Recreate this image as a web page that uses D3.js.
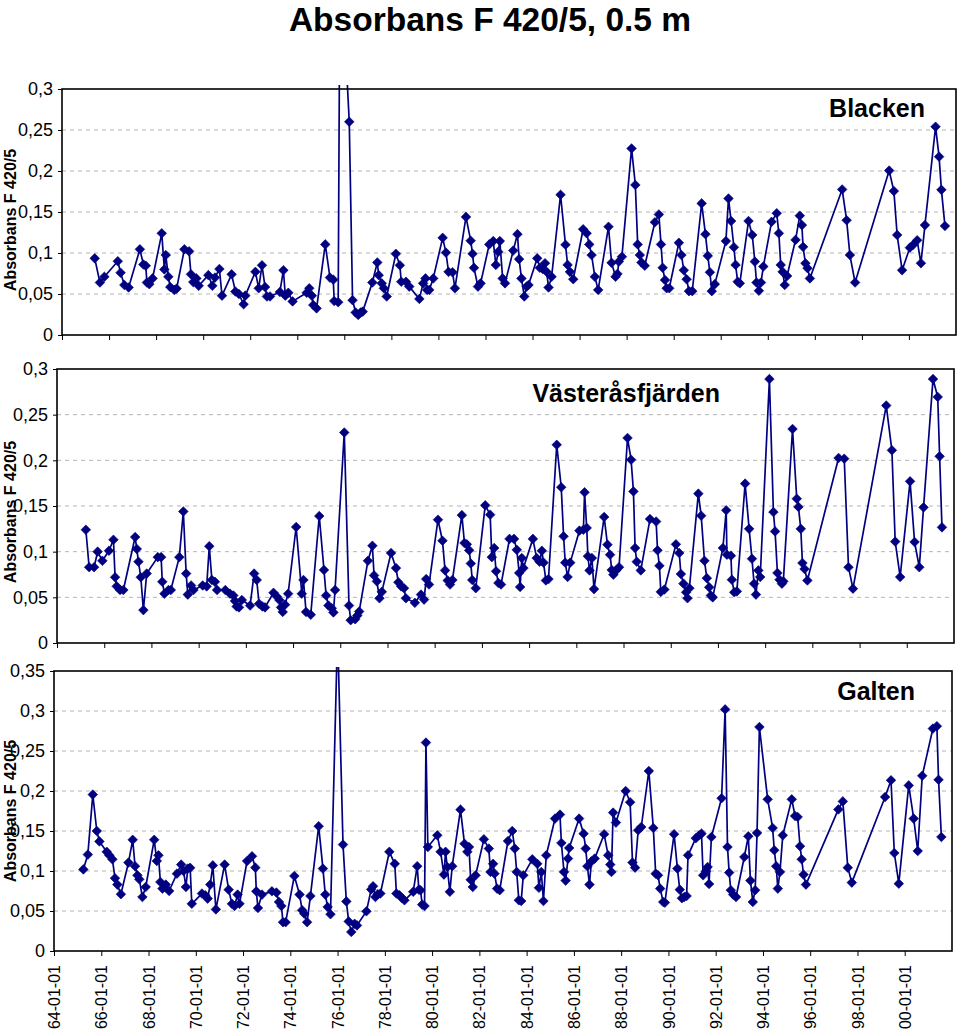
<!DOCTYPE html>
<html><head><meta charset="utf-8">
<script src="https://cdn.jsdelivr.net/npm/d3@7"></script>
<style>body{margin:0;background:#fff}svg{display:block}text{font-family:"Liberation Sans",Arial,sans-serif}</style>
</head><body><svg id="chart" width="960" height="1029"></svg>
<script>
// ---------- DATA (dates as decimal years) ----------
const blackenDates=[1965.39,1965.61,1965.80,1966.37,1966.49,1966.65,1966.83,1967.31,1967.46,1967.56,1967.61,1967.71,1967.85,1968.24,1968.35,1968.41,1968.52,1968.60,1968.77,1968.87,1969.20,1969.40,1969.48,1969.58,1969.71,1969.81,1970.22,1970.39,1970.50,1970.69,1970.80,1971.21,1971.37,1971.52,1971.72,1971.79,1972.22,1972.36,1972.50,1972.63,1972.71,1972.84,1973.26,1973.41,1973.49,1973.62,1973.80,1974.40,1974.51,1974.62,1974.68,1974.82,1975.19,1975.39,1975.53,1975.57,1975.74,1975.82,1976.21,1976.35,1976.48,1976.59,1976.69,1976.78,1977.19,1977.40,1977.46,1977.59,1977.68,1977.80,1978.19,1978.36,1978.42,1978.62,1978.76,1979.19,1979.35,1979.45,1979.52,1979.61,1979.78,1980.18,1980.32,1980.43,1980.60,1980.70,1981.17,1981.37,1981.45,1981.51,1981.68,1981.79,1982.16,1982.33,1982.44,1982.54,1982.61,1982.73,1982.83,1983.18,1983.36,1983.43,1983.53,1983.65,1983.75,1983.83,1984.20,1984.31,1984.43,1984.53,1984.60,1984.68,1984.81,1985.19,1985.40,1985.49,1985.59,1985.73,1986.15,1986.30,1986.41,1986.51,1986.65,1986.79,1987.23,1987.36,1987.53,1987.61,1987.67,1987.80,1988.21,1988.37,1988.47,1988.56,1988.63,1988.77,1989.20,1989.37,1989.46,1989.53,1989.63,1989.70,1989.81,1990.22,1990.33,1990.43,1990.55,1990.65,1990.79,1991.19,1991.35,1991.45,1991.54,1991.62,1991.75,1992.22,1992.33,1992.44,1992.56,1992.63,1992.72,1992.81,1993.18,1993.34,1993.45,1993.52,1993.62,1993.71,1993.81,1994.16,1994.38,1994.47,1994.55,1994.63,1994.72,1994.82,1995.18,1995.36,1995.45,1995.50,1995.60,1995.69,1995.79,1997.16,1997.35,1997.49,1997.71,1999.16,1999.36,1999.50,1999.71,2000.04,2000.18,2000.35,2000.51,2000.68,2001.13,2001.28,2001.38,2001.53];
const blackenValues=[.0935,.064,.071,.090,.076,.061,.058,.1045,.086,.0845,.064,.062,.069,.124,.080,.0975,.071,.0585,.055,.0565,.1045,.102,.074,.0645,.069,.060,.073,.060,.070,.0805,.048,.074,.053,.050,.0375,.048,.077,.057,.085,.0585,.047,.047,.0525,.079,.048,.0515,.041,.0515,.057,.048,.0365,.0325,.1105,.070,.0675,.0415,.040,.48,.260,.0425,.0275,.0245,.0275,.0285,.064,.0885,.073,.063,.057,.047,.099,.085,.065,.065,.059,.044,.063,.069,.055,.055,.069,.1185,.1005,.077,.0765,.057,.144,.115,.099,.082,.059,.063,.1105,.1145,.0855,.1015,.1145,.069,.063,.103,.123,.0925,.069,.047,.059,.061,.0935,.082,.0805,.0875,.077,.058,.071,.171,.110,.0855,.077,.068,.129,.124,.1105,.0975,.071,.055,.132,.088,.071,.0745,.0895,.0955,.2275,.183,.1105,.0975,.0885,.0845,.1375,.147,.1105,.082,.067,.057,.057,.1125,.0975,.079,.068,.0535,.0535,.1605,.123,.0965,.0765,.0535,.062,.1145,.1665,.139,.107,.0855,.065,.063,.139,.122,.0895,.064,.054,.064,.0835,.138,.1485,.124,.0855,.077,.061,.072,.116,.1455,.134,.1075,.0875,.0815,.069,.1775,.140,.0975,.064,.2005,.1755,.122,.079,.1065,.110,.1155,.0875,.134,.254,.2175,.177,.133];

const vasterasDates=[1965.22,1965.36,1965.57,1965.72,1965.92,1966.20,1966.39,1966.46,1966.53,1966.67,1966.81,1967.31,1967.38,1967.45,1967.55,1967.66,1967.80,1968.27,1968.41,1968.46,1968.55,1968.72,1968.82,1969.18,1969.35,1969.47,1969.54,1969.68,1969.78,1970.17,1970.34,1970.45,1970.56,1970.69,1970.78,1971.13,1971.33,1971.47,1971.54,1971.61,1971.71,1971.83,1972.18,1972.35,1972.46,1972.56,1972.70,1972.81,1973.17,1973.31,1973.42,1973.49,1973.56,1973.66,1973.79,1974.13,1974.37,1974.44,1974.55,1974.75,1975.11,1975.31,1975.40,1975.50,1975.64,1975.71,1975.78,1976.17,1976.37,1976.44,1976.63,1976.72,1976.80,1977.17,1977.36,1977.43,1977.55,1977.66,1977.76,1978.15,1978.36,1978.46,1978.58,1978.70,1978.78,1979.16,1979.42,1979.55,1979.64,1979.76,1980.14,1980.33,1980.44,1980.55,1980.65,1980.75,1981.15,1981.26,1981.36,1981.46,1981.53,1981.59,1981.74,1982.14,1982.35,1982.42,1982.52,1982.60,1982.70,1982.81,1983.17,1983.36,1983.48,1983.58,1983.62,1983.69,1983.76,1984.16,1984.32,1984.44,1984.54,1984.61,1984.71,1984.82,1985.17,1985.36,1985.46,1985.53,1985.63,1985.74,1986.13,1986.30,1986.35,1986.44,1986.49,1986.56,1986.66,1986.75,1987.18,1987.32,1987.43,1987.50,1987.57,1987.69,1987.81,1988.17,1988.32,1988.42,1988.49,1988.56,1988.73,1989.12,1989.38,1989.44,1989.52,1989.58,1989.73,1990.22,1990.36,1990.43,1990.54,1990.65,1990.71,1990.79,1991.17,1991.29,1991.43,1991.53,1991.63,1991.70,1991.78,1992.21,1992.35,1992.38,1992.55,1992.59,1992.69,1992.80,1993.15,1993.32,1993.44,1993.53,1993.61,1993.71,1993.79,1994.18,1994.35,1994.42,1994.52,1994.61,1994.71,1994.77,1995.16,1995.34,1995.41,1995.51,1995.58,1995.67,1995.79,1997.11,1997.35,1997.53,1997.72,1999.13,1999.37,1999.51,1999.72,2000.14,2000.33,2000.53,2000.71,2001.11,2001.31,2001.39,2001.49];
const vasterasValues=[.124,.083,.083,.100,.090,.101,.113,.072,.062,.058,.058,.116,.103,.089,.072,.036,.076,.094,.094,.067,.054,.058,.058,.094,.144,.076,.053,.063,.058,.063,.062,.106,.069,.067,.058,.058,.054,.052,.046,.040,.039,.047,.041,.076,.069,.043,.040,.039,.055,.051,.047,.039,.034,.042,.054,.127,.054,.069,.034,.031,.139,.080,.052,.041,.038,.0335,.058,.2305,.041,.025,.026,.030,.0345,.090,.1065,.074,.0675,.049,.056,.0985,.082,.0665,.062,.060,.049,.044,.053,.0475,.070,.064,.135,.112,.0795,.0685,.064,.069,.140,.1095,.108,.1015,.087,.069,.060,.1507,.1405,.094,.104,.0785,.0657,.064,.114,.114,.102,.0767,.0613,.093,.082,.114,.093,.089,.101,.088,.0685,.070,.217,.1705,.1168,.088,.0723,.088,.123,.124,.165,.126,.095,.0795,.093,.059,.138,.1077,.0967,.080,.0748,.0795,.083,.2245,.2007,.166,.104,.089,.0795,.1357,.133,.1015,.0845,.056,.0585,.108,.0985,.0755,.065,.0555,.049,.060,.1635,.1394,.090,.071,.061,.052,.050,.104,.1453,.0967,.0956,.0693,.0555,.0565,.1745,.125,.0923,.065,.053,.0795,.0723,.289,.1434,.1222,.0767,.0693,.065,.0675,.2343,.158,.149,.125,.0876,.081,.0685,.2026,.2018,.083,.0595,.260,.211,.111,.0723,.177,.1106,.083,.1485,.289,.2694,.2044,.1266];

const galtenDates=[1965.24,1965.43,1965.64,1965.81,1965.92,1966.23,1966.34,1966.47,1966.58,1966.68,1966.83,1967.15,1967.33,1967.43,1967.53,1967.61,1967.74,1967.88,1968.24,1968.35,1968.42,1968.50,1968.59,1968.73,1968.87,1969.20,1969.38,1969.48,1969.58,1969.66,1969.76,1969.83,1970.26,1970.40,1970.50,1970.61,1970.72,1970.85,1971.22,1971.39,1971.53,1971.64,1971.77,1971.85,1972.17,1972.38,1972.52,1972.56,1972.63,1972.80,1973.22,1973.41,1973.52,1973.62,1973.69,1973.80,1974.17,1974.39,1974.50,1974.59,1974.71,1974.85,1975.20,1975.38,1975.48,1975.58,1975.70,1976.00,1976.23,1976.37,1976.47,1976.58,1976.72,1976.82,1977.22,1977.42,1977.50,1977.60,1977.70,1977.81,1978.19,1978.42,1978.49,1978.62,1978.73,1978.83,1979.20,1979.37,1979.44,1979.51,1979.58,1979.68,1979.74,1979.82,1980.22,1980.36,1980.50,1980.57,1980.64,1980.75,1980.85,1981.20,1981.37,1981.49,1981.56,1981.63,1981.72,1981.84,1982.19,1982.40,1982.47,1982.58,1982.64,1982.75,1982.86,1983.21,1983.39,1983.50,1983.58,1983.67,1983.77,1983.86,1984.24,1984.45,1984.52,1984.62,1984.71,1984.83,1985.20,1985.41,1985.47,1985.58,1985.65,1985.75,1985.80,1986.22,1986.41,1986.50,1986.57,1986.66,1986.74,1986.88,1987.28,1987.45,1987.54,1987.59,1987.66,1987.78,1988.19,1988.38,1988.48,1988.59,1988.72,1988.85,1989.17,1989.36,1989.46,1989.56,1989.65,1989.78,1989.85,1990.24,1990.38,1990.48,1990.57,1990.67,1990.77,1990.83,1991.16,1991.30,1991.40,1991.47,1991.58,1991.66,1991.72,1991.82,1992.25,1992.40,1992.50,1992.57,1992.64,1992.74,1992.86,1993.21,1993.38,1993.47,1993.57,1993.67,1993.75,1993.85,1994.20,1994.41,1994.48,1994.56,1994.63,1994.72,1994.84,1995.22,1995.36,1995.47,1995.57,1995.64,1995.72,1995.82,1997.19,1997.38,1997.59,1997.76,1999.17,1999.42,1999.56,1999.75,2000.17,2000.38,2000.55,2000.74,2001.19,2001.36,2001.43,2001.55];
const galtenValues=[.102,.1205,.1955,.150,.137,.124,.1196,.1146,.091,.083,.071,.1105,.139,.106,.0946,.0896,.0675,.080,.139,.1125,.1196,.0863,.078,.083,.075,.0967,.108,.100,.080,.103,.104,.059,.0718,.0696,.0655,.083,.107,.052,.108,.0767,.059,.0563,.0705,.059,.1125,.1184,.1042,.0746,.0538,.0705,.0746,.073,.0613,.0563,.036,.036,.0938,.0705,.051,.0467,.036,.0688,.156,.103,.0705,.055,.046,.40,.133,.062,.037,.0238,.034,.032,.0496,.077,.081,.0675,.071,.0718,.124,.109,.0718,.0696,.066,.0634,.074,.106,.0767,.076,.058,.0563,.2605,.130,.1446,.124,.0955,.124,.105,.074,.106,.1767,.134,.124,.130,.089,.080,.0946,.1396,.128,.0988,.109,.0967,.078,.076,.1375,.150,.128,.0988,.0634,.0625,.0946,.1146,.109,.079,.0988,.0625,.1196,.1655,.1705,.135,.0988,.088,.1155,.1288,.1655,.1467,.128,.106,.083,.112,.1155,.146,.1196,.108,.0988,.173,.1605,.200,.186,.1105,.1042,.151,.155,.225,.1538,.0967,.0946,.078,.0613,.0605,.146,.103,.0767,.066,.0675,.0688,.1196,.141,.1446,.1467,.0946,.0996,.105,.0838,.1425,.191,.302,.130,.098,.076,.0705,.0675,.1175,.1434,.088,.0613,.076,.1475,.280,.1896,.1538,.126,.106,.078,.0988,.1446,.1896,.1688,.1675,.131,.1146,.0955,.083,.177,.187,.1042,.0855,.1925,.2134,.1225,.0842,.207,.1655,.125,.219,.278,.281,.214,.1425];

const xTickYears=[1964,1966,1968,1970,1972,1974,1976,1978,1980,1982,1984,1986,1988,1990,1992,1994,1996,1998,2000];
const yTicksA=[0,0.05,0.1,0.15,0.2,0.25,0.3];
const yTicksB=[0,0.05,0.1,0.15,0.2,0.25,0.3,0.35];
const panelNames=["Blacken","Västeråsfjärden","Galten"];
const chartTitle="Absorbans F 420/5, 0.5 m";
const yAxisTitle="Absorbans F 420/5";

// ---------- LAYOUT ----------
const panels=[
  {name:panelNames[0],dates:blackenDates,values:blackenValues,ticks:yTicksA,l:62,r:956,t:89,b:335,lx:925,ly:117,ty:220,showX:false},
  {name:panelNames[1],dates:vasterasDates,values:vasterasValues,ticks:yTicksA,l:57,r:954,t:369,b:643,lx:720,ly:402,ty:512,showX:false},
  {name:panelNames[2],dates:galtenDates,values:galtenValues,ticks:yTicksB,l:54,r:952,t:671,b:951,lx:915,ly:700,ty:811,showX:true}
];
const NAVY="#000080";
function toDate(v){const y=Math.floor(v);const a=new Date(y,0,1),b=new Date(y+1,0,1);return new Date(+a+(v-y)*(b-a));}
const fmtY=v=>v===0?"0":String(+v.toFixed(2)).replace(".",",");
const svg=d3.select("#chart");

svg.append("text").attr("x",490).attr("y",31).attr("text-anchor","middle")
  .attr("font-size",33.5).attr("font-weight","bold").text(chartTitle);

panels.forEach((p,i)=>{
  const yMax=p.ticks[p.ticks.length-1];
  const x=d3.scaleTime().domain([new Date(1964,0,1),new Date(2002,0,1)]).range([p.l,p.r]);
  const y=d3.scaleLinear().domain([0,yMax]).range([p.b,p.t]);
  const g=svg.append("g");
  // gridlines
  g.selectAll(".grid").data(p.ticks.filter(t=>t>0&&t<yMax)).join("line")
    .attr("x1",p.l).attr("x2",p.r).attr("y1",d=>y(d)).attr("y2",d=>y(d))
    .attr("stroke","#b4b4b4").attr("stroke-width",1).attr("stroke-dasharray","4,4");
  // y axis
  const ya=g.append("g").attr("transform",`translate(${p.l},0)`)
    .call(d3.axisLeft(y).tickValues(p.ticks).tickSize(4).tickPadding(5).tickFormat(fmtY));
  ya.select(".domain").remove();
  ya.selectAll("text").attr("font-size",18).attr("fill","#000").attr("font-family","'Liberation Sans',Arial,sans-serif");
  ya.selectAll("line").attr("stroke","#000");
  // x axis
  const xa=g.append("g").attr("transform",`translate(0,${p.b})`)
    .call(d3.axisBottom(x).tickValues(xTickYears.map(v=>new Date(v,0,1))).tickSize(5)
      .tickFormat(p.showX?d3.timeFormat("%y-%m-%d"):""));
  xa.select(".domain").remove();
  xa.selectAll("line").attr("stroke","#000");
  if(p.showX){
    xa.selectAll("text").attr("font-size",16).attr("fill","#000").attr("font-family","'Liberation Sans',Arial,sans-serif")
      .attr("transform","rotate(-90)").attr("text-anchor","end").attr("x",-14).attr("y",0).attr("dy","0.35em");
  }
  // series
  const clipId="clip"+i;
  svg.append("clipPath").attr("id",clipId).append("rect")
    .attr("x",p.l).attr("y",p.t-4).attr("width",p.r-p.l).attr("height",p.b-p.t+4);
  const data=p.dates.map((d,k)=>({date:toDate(d),value:p.values[k]}));
  const sg=g.append("g").attr("clip-path",`url(#${clipId})`);
  sg.append("path").datum(data).attr("fill","none").attr("stroke",NAVY).attr("stroke-width",1.7)
    .attr("stroke-linejoin","round")
    .attr("d",d3.line().x(d=>x(d.date)).y(d=>y(d.value)));
  const sym=d3.symbol(d3.symbolSquare,46);
  sg.selectAll(".pt").data(data).join("path")
    .attr("transform",d=>`translate(${x(d.date)},${y(d.value)}) rotate(45)`)
    .attr("d",sym).attr("fill",NAVY).attr("stroke",NAVY).attr("stroke-width",0.6);
  // frame
  g.append("rect").attr("x",p.l).attr("y",p.t).attr("width",p.r-p.l).attr("height",p.b-p.t)
    .attr("fill","none").attr("stroke","#000").attr("stroke-width",1.6);
  // panel label
  g.append("text").attr("x",p.lx).attr("y",p.ly).attr("text-anchor","end")
    .attr("font-size",25).attr("font-weight","bold").text(p.name);
  // y title
  g.append("text").attr("transform",`translate(16,${p.ty}) rotate(-90)`).attr("text-anchor","middle")
    .attr("font-size",16).attr("font-weight","bold").text(yAxisTitle);
});
</script></body></html>
